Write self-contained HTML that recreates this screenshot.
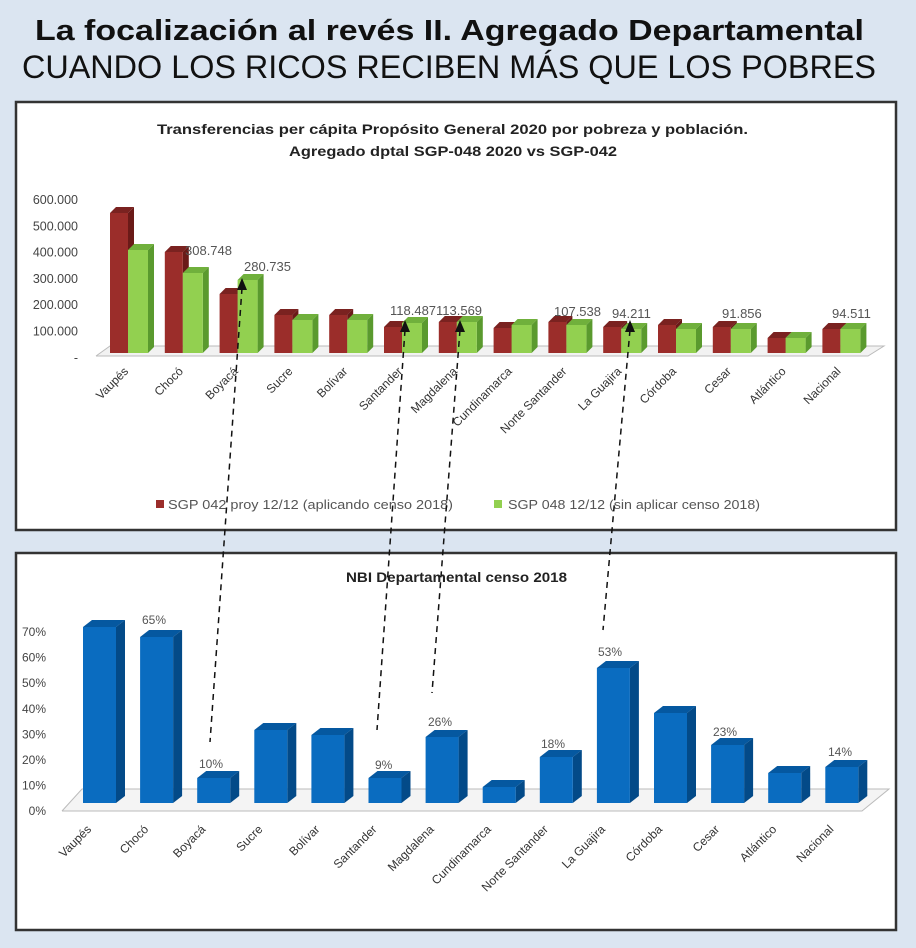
<!DOCTYPE html>
<html><head><meta charset="utf-8"><style>
html,body{margin:0;padding:0;background:#dbe5f1;}
svg{display:block;font-family:"Liberation Sans",sans-serif;}
</style></head><body>
<svg id="s" width="916" height="948" viewBox="0 0 916 948" xmlns="http://www.w3.org/2000/svg">
<rect width="916" height="948" fill="#dbe5f1"/>
<text x="35" y="40" font-size="29" font-weight="bold" textLength="829" lengthAdjust="spacingAndGlyphs" fill="#111">La focalización al revés II. Agregado Departamental</text>
<text x="22" y="78" font-size="32" textLength="854" lengthAdjust="spacingAndGlyphs" fill="#111">CUANDO LOS RICOS RECIBEN MÁS QUE LOS POBRES</text>
<rect x="16" y="102" width="880" height="428" fill="#fff" stroke="#333" stroke-width="2.5"/>
<rect x="16" y="553" width="880" height="377" fill="#fff" stroke="#333" stroke-width="2.5"/>
<text x="157" y="134" font-size="14" font-weight="bold" textLength="591" lengthAdjust="spacingAndGlyphs" fill="#222">Transferencias per cápita Propósito General  2020 por pobreza  y población.</text>
<text x="289" y="156" font-size="14" font-weight="bold" textLength="328" lengthAdjust="spacingAndGlyphs" fill="#222">Agregado dptal SGP-048 2020  vs SGP-042</text>
<text x="346" y="582" font-size="14" font-weight="bold" textLength="221" lengthAdjust="spacingAndGlyphs" fill="#222">NBI Departamental censo 2018</text>
<g id="g"></g>
</svg>
<script>
var g=document.getElementById('g'),h='';
function P(pts,f){h+='<polygon points="'+pts+'" fill="'+f+'"/>';}
function bar(x,w,top,base,dx,dy,c){
 P(x+','+top+' '+(x+w)+','+top+' '+(x+w+dx)+','+(top-dy)+' '+(x+dx)+','+(top-dy),c[2]);
 P((x+w)+','+top+' '+(x+w+dx)+','+(top-dy)+' '+(x+w+dx)+','+(base-dy)+' '+(x+w)+','+base,c[1]);
 h+='<rect x="'+x+'" y="'+top+'" width="'+w+'" height="'+(base-top)+'" fill="'+c[0]+'"/>';}
function T(x,y,s,t,o){h+='<text x="'+x+'" y="'+y+'" font-size="'+s+'" '+(o||'')+'>'+t+'</text>';}
var cats=['Vaupés','Chocó','Boyacá','Sucre','Bolívar','Santander','Magdalena','Cundinamarca','Norte Santander','La Guajira','Córdoba','Cesar','Atlántico','Nacional'];
var R=['#9b2d2a','#6a1a18','#7a2220'],G=['#92d050','#5a9a2e','#70b03c'],B=['#0a6cc0','#034a88','#0558a0'];
P('96,356 868,356 884,346 110,346','#f2f2f2');h+='<polyline points="96,356 868,356 884,346 110,346 96,356" fill="none" stroke="#bbb"/>';
var yl=['600.000','500.000','400.000','300.000','200.000','100.000','-'];
yl.forEach(function(t,i){T(78,204+i*26.3,12.5,t,'text-anchor="end" fill="#444"');});
var rt=[213,252,294,315,315,327,322,328,322,327,325,327,338,329];
var gt=[250,273,280,320,320,323,322,325,325,329,329,329,338,329];
for(var i=0;i<14;i++){var x=110+i*54.8;
 bar(x,18,rt[i],353,6,6,R);bar(x+18,20,gt[i],353,6,6,G);
 T(x+19,372,12,cats[i],'text-anchor="end" fill="#333" transform="rotate(-45 '+(x+19)+' 372)"');}
[[185,255,'308.748'],[244,271,'280.735'],[390,315,'118.487'],[436,315,'113.569'],[554,316,'107.538'],[612,318,'94.211'],[722,318,'91.856'],[832,318,'94.511']].forEach(function(a){T(a[0],a[1],13,a[2],'fill="#555"');});
h+='<rect x="156" y="500" width="8" height="8" fill="#9b2d2a"/>';T(168,509,13,'SGP 042  proy 12/12 (aplicando censo 2018)','fill="#555" textLength="285" lengthAdjust="spacingAndGlyphs"');
h+='<rect x="494" y="500" width="8" height="8" fill="#92d050"/>';T(508,509,13,'SGP 048 12/12 (sin aplicar censo 2018)','fill="#555" textLength="252" lengthAdjust="spacingAndGlyphs"');
P('62,811 862,811 889,789 82,789','#f4f4f4');h+='<polyline points="62,811 862,811 889,789 82,789 62,811" fill="none" stroke="#bbb"/>';
for(var k=0;k<8;k++)T(46,636+k*25.6,12,(70-k*10)+'%','text-anchor="end" fill="#444"');
var bt=[627,637,778,730,735,778,737,787,757,668,713,745,773,767];
for(i=0;i<14;i++){x=83+i*57.1;bar(x,33,bt[i],803,9,7,B);
 T(x+9,830,12,cats[i],'text-anchor="end" fill="#333" transform="rotate(-45 '+(x+9)+' 830)"');}
[[142,624,'65%'],[199,768,'10%'],[375,769,'9%'],[428,726,'26%'],[541,748,'18%'],[598,656,'53%'],[713,736,'23%'],[828,756,'14%']].forEach(function(a){T(a[0],a[1],12,a[2],'fill="#555"');});
[[242,280,210,742],[405,322,377,730],[460,322,432,693],[630,322,603,630]].forEach(function(a){
 h+='<line x1="'+a[0]+'" y1="'+(a[1]+8)+'" x2="'+a[2]+'" y2="'+a[3]+'" stroke="#111" stroke-width="1.5" stroke-dasharray="6,5"/>';
 P((a[0]-5)+','+(a[1]+10)+' '+(a[0]+5)+','+(a[1]+10)+' '+a[0]+','+(a[1]-2),'#111');});
g.innerHTML=h;
</script>
</body></html>
